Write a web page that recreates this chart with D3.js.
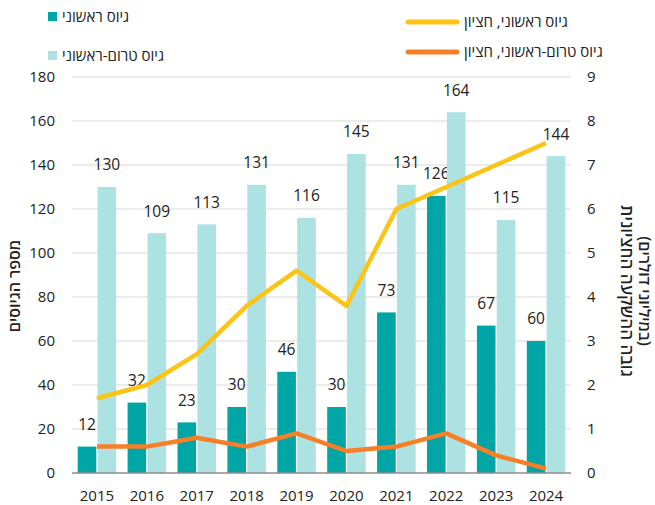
<!DOCTYPE html>
<html>
<head>
<meta charset="utf-8">
<script src="https://cdn.jsdelivr.net/npm/d3@7"></script>
<style>
  body { margin: 0; background: #fff; }
  svg { font-family: "Open Sans", "Noto Sans", sans-serif; }
</style>
</head>
<body>
<svg id="chart" width="655" height="505"></svg>
<script>
// data
const years = ['2015', '2016', '2017', '2018', '2019', '2020', '2021', '2022', '2023', '2024'];
const firstRound = [12, 32, 23, 30, 46, 30, 73, 126, 67, 60];
const preRound = [130, 109, 113, 131, 116, 145, 131, 164, 115, 144];
const firstMedian = [1.7, 2.0, 2.7, 3.8, 4.6, 3.8, 6.0, 6.5, 7.0, 7.5];
const preMedian = [0.6, 0.6, 0.8, 0.6, 0.9, 0.5, 0.6, 0.9, 0.4, 0.1];
const leftTicks = [0, 20, 40, 60, 80, 100, 120, 140, 160, 180];
const rightTicks = [0, 1, 2, 3, 4, 5, 6, 7, 8, 9];

const colDark = '#00a5a5';
const colLight = '#ace2e1';
const colYellow = '#fcc416';
const colOrange = '#f97e28';
const ink = '#222';

const svg = d3.select('#chart');
const plotL = 72, plotR = 571, plotT = 77, plotB = 473;

const x = d3.scaleBand().domain(years).range([plotL, plotR]);
const sub = d3.scaleBand().domain(['first', 'pre']).range([0, x.bandwidth()])
  .paddingInner(0.065).paddingOuter(0.286);
const yL = d3.scaleLinear().domain([0, 180]).range([plotB, plotT]);
const yR = d3.scaleLinear().domain([0, 9]).range([plotB, plotT]);

// grid
svg.append('g').selectAll('line').data(leftTicks.slice(1)).join('line')
  .attr('x1', plotL).attr('x2', plotR)
  .attr('y1', d => yL(d)).attr('y2', d => yL(d))
  .attr('stroke', '#d9d9d9').attr('stroke-width', 1);

// left axis labels
const axL = svg.append('g').attr('transform', `translate(${plotL},0)`)
  .call(d3.axisLeft(yL).tickValues(leftTicks).tickSize(0).tickPadding(17));
axL.select('.domain').remove();
axL.selectAll('text').attr('font-size', 15).attr('fill', ink);
axL.attr('font-family', null);

// right axis labels
const axR = svg.append('g').attr('transform', `translate(${plotR},0)`)
  .call(d3.axisRight(yR).tickValues(rightTicks).tickSize(0).tickPadding(16));
axR.select('.domain').remove();
axR.selectAll('text').attr('font-size', 15).attr('fill', ink);
axR.attr('font-family', null);

// bottom axis
const axB = svg.append('g').attr('transform', `translate(0,${plotB})`)
  .call(d3.axisBottom(x).tickSize(0).tickPadding(17));
axB.select('.domain').remove();
axB.selectAll('text').attr('font-size', 15).attr('fill', ink);
axB.attr('font-family', null);

// bars
const rows = years.map((yr, i) => ({ yr, first: firstRound[i], pre: preRound[i] }));
const g = svg.append('g').selectAll('g').data(rows).join('g')
  .attr('transform', d => `translate(${x(d.yr)},0)`);

['first', 'pre'].forEach(k => {
  g.append('rect')
    .attr('x', sub(k)).attr('width', sub.bandwidth())
    .attr('y', d => yL(d[k])).attr('height', d => plotB - yL(d[k]))
    .attr('fill', k == 'first' ? colDark : colLight);
  g.append('text')
    .attr('x', sub(k) + sub.bandwidth() / 2)
    .attr('y', d => yL(d[k]) - 22)
    .attr('dy', '0.35em')
    .attr('text-anchor', 'middle')
    .attr('font-size', 15.5).attr('fill', ink)
    .text(d => d[k]);
});

// axis baseline
svg.append('line').attr('x1', plotL).attr('x2', plotR)
  .attr('y1', plotB).attr('y2', plotB)
  .attr('stroke', '#8c8c8c').attr('stroke-width', 1.5);

// median lines
const line = d3.line().x((d, i) => x(years[i]) + x.bandwidth() / 2).y(d => yR(d));
[[firstMedian, colYellow], [preMedian, colOrange]].forEach(([vals, c]) => {
  svg.append('path').datum(vals).attr('d', line)
    .attr('fill', 'none').attr('stroke', c).attr('stroke-width', 4.5)
    .attr('stroke-linejoin', 'round');
});

// legend
const legBars = [['גיוס ראשוני', colDark, 12], ['גיוס טרום-ראשוני', colLight, 51]];
legBars.forEach(([t, c, yy]) => {
  svg.append('rect').attr('x', 48).attr('y', yy).attr('width', 9).attr('height', 9).attr('fill', c);
  svg.append('text').attr('x', 62).attr('y', yy + 5).attr('dy', '0.35em')
    .attr('direction', 'rtl').attr('text-anchor', 'end')
    .attr('font-size', 15).attr('fill', ink).text(t);
});
const legLines = [['גיוס ראשוני, חציון', colYellow, 22], ['גיוס טרום-ראשוני, חציון', colOrange, 52]];
legLines.forEach(([t, c, yy]) => {
  svg.append('line').attr('x1', 408).attr('x2', 457).attr('y1', yy).attr('y2', yy)
    .attr('stroke', c).attr('stroke-width', 5).attr('stroke-linecap', 'round');
  svg.append('text').attr('x', 464).attr('y', yy).attr('dy', '0.35em')
    .attr('direction', 'rtl').attr('text-anchor', 'end')
    .attr('font-size', 15).attr('fill', ink).text(t);
});

// axis titles
svg.append('text').attr('transform', 'translate(14,286) rotate(-90)')
  .attr('direction', 'rtl').attr('text-anchor', 'middle').attr('dy', '0.35em')
  .attr('font-size', 16).attr('font-weight', 600).attr('fill', ink).text('מספר הגיוסים');
svg.append('text').attr('transform', 'translate(627,291) rotate(90)')
  .attr('direction', 'rtl').attr('text-anchor', 'middle').attr('dy', '0.35em')
  .attr('font-size', 17).attr('font-weight', 600).attr('fill', ink).text('גובה ההשקעה החציונית');
svg.append('text').attr('transform', 'translate(645,291) rotate(90)')
  .attr('direction', 'rtl').attr('text-anchor', 'middle').attr('dy', '0.35em')
  .attr('font-size', 16).attr('font-weight', 600).attr('fill', ink).text('(במיליוני דולרים)');
</script>
</body>
</html>
